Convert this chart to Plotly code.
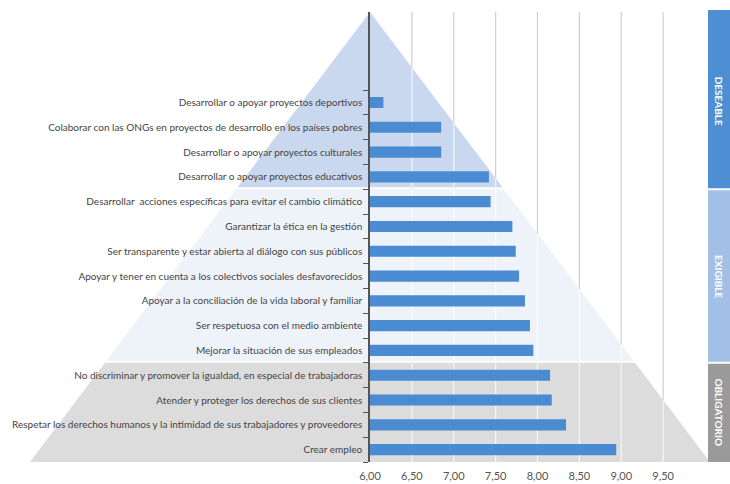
import plotly.graph_objects as go

# Actions, listed top to bottom, with their mean score
actions = [
    "Desarrollar o apoyar proyectos deportivos",
    "Colaborar con las ONGs en proyectos de desarrollo en los países pobres",
    "Desarrollar o apoyar proyectos culturales",
    "Desarrollar o apoyar proyectos educativos",
    "Desarrollar  acciones específicas para evitar el cambio climático",
    "Garantizar la ética en la gestión",
    "Ser transparente y estar abierta al diálogo con sus públicos",
    "Apoyar y tener en cuenta a los colectivos sociales desfavorecidos",
    "Apoyar a la conciliación de la vida laboral y familiar",
    "Ser respetuosa con el medio ambiente",
    "Mejorar la situación de sus empleados",
    "No discriminar y promover la igualdad, en especial de trabajadoras",
    "Atender y proteger los derechos de sus clientes",
    "Respetar los derechos humanos y la intimidad de sus trabajadores y proveedores",
    "Crear empleo",
]
scores = [6.16, 6.85, 6.85, 7.42, 7.44, 7.70, 7.74, 7.78, 7.85, 7.91, 7.95,
          8.15, 8.17, 8.34, 8.94]

# Pyramid levels (top to bottom) and how many actions fall in each
levels = ["DESEABLE", "EXIGIBLE", "OBLIGATORIO"]
level_counts = [4, 7, 4]

tick_values = [6.0, 6.5, 7.0, 7.5, 8.0, 8.5, 9.0, 9.5]
tick_labels = ["6,00", "6,50", "7,00", "7,50", "8,00", "8,50", "9,00", "9,50"]
x_range = [6.0, 10.0]

# Figure geometry (pixels)
W, H = 730, 484
M_L, M_R, M_T, M_B = 370, 25, 12, 22
PW, PH = W - M_L - M_R, H - M_T - M_B
Y_SPAN = 18.15                      # category units shown vertically
y_range = [-0.5, -0.5 + Y_SPAN]
BASE_HALF = 340 / PW                # half-width of the pyramid base (paper units)

band_fill = ["#c9d8ee", "#eef3fa", "#dcdcdc"]
tab_fill = ["#4d8fd2", "#a2c0e6", "#9a9a9a"]
bar_color = "#4a8bd1"
text_color = "#444444"
font_family = "Lato, sans-serif"


def cat_to_paper(v):
    return (v - y_range[0]) / Y_SPAN


def half_width(yp):
    return BASE_HALF * (1 - yp)


# Level boundaries, top to bottom, in paper units
bounds = [0.0]
acc = 0
for c in reversed(level_counts):
    acc += c
    bounds.append(cat_to_paper(acc - 0.5))
bounds[-1] = 1.0
bounds = list(reversed(bounds))
gap = 2 / PH

shapes = []

# Vertical gridlines (grey on white background)
for v in tick_values[1:]:
    xp = (v - x_range[0]) / (x_range[1] - x_range[0])
    shapes.append(dict(type="line", xref="paper", yref="paper", x0=xp, x1=xp,
                       y0=0, y1=1, line=dict(color="#cfcfcf", width=1.2),
                       layer="below"))

# Pyramid bands
for i, lvl in enumerate(levels):
    top = bounds[i]
    bot = bounds[i + 1] + (gap if i < len(levels) - 1 else 0)
    wt, wb = half_width(top), half_width(bot)
    path = f"M {-wb} {bot} L {wb} {bot} L {wt} {top} L {-wt} {top} Z"
    shapes.append(dict(type="path", xref="paper", yref="paper", path=path,
                       fillcolor=band_fill[i], line=dict(width=0),
                       layer="below"))

# Gridlines appear light where they cross the pyramid
for v in tick_values[1:]:
    xp = (v - x_range[0]) / (x_range[1] - x_range[0])
    ytop = 1 - xp / BASE_HALF
    if ytop > 0:
        shapes.append(dict(type="line", xref="paper", yref="paper", x0=xp,
                           x1=xp, y0=0, y1=ytop,
                           line=dict(color="rgba(255,255,255,0.75)", width=1.2),
                           layer="below"))

# Level tabs on the right
tab_x0 = (708 - M_L) / PW
tab_x1 = (730 - M_L) / PW
for i, lvl in enumerate(levels):
    top = bounds[i] + (gap if i == 0 else -gap / 2)
    bot = bounds[i + 1] + (gap / 2 if i < len(levels) - 1 else 0)
    shapes.append(dict(type="rect", xref="paper", yref="paper", x0=tab_x0,
                       x1=tab_x1, y0=bot, y1=top, fillcolor=tab_fill[i],
                       line=dict(width=0), layer="below"))

annotations = []
for i, lvl in enumerate(levels):
    annotations.append(dict(
        text=f"<b>{lvl}</b>", xref="paper", yref="paper",
        x=(tab_x0 + tab_x1) / 2, y=(bounds[i] + bounds[i + 1]) / 2,
        textangle=90, showarrow=False, xanchor="center", yanchor="middle",
        font=dict(family="Lato, sans-serif", size=10, color="white")))

fig = go.Figure(go.Bar(
    x=scores, y=actions, orientation="h",
    marker=dict(color=bar_color, line=dict(width=0)),
    width=0.45, hoverinfo="x+y"))

fig.update_layout(
    width=W, height=H,
    margin=dict(l=M_L, r=M_R, t=M_T, b=M_B, autoexpand=False),
    paper_bgcolor="white", plot_bgcolor="rgba(0,0,0,0)",
    showlegend=False, shapes=shapes, annotations=annotations,
    font=dict(family=font_family, color=text_color),
    xaxis=dict(range=x_range, tickvals=tick_values, ticktext=tick_labels,
               showgrid=False, zeroline=False, showline=False,
               ticks="outside", ticklen=4, tickcolor="rgba(0,0,0,0)",
               tickfont=dict(size=11, color="#555555"), automargin=False),
    yaxis=dict(type="category", categoryorder="array",
               categoryarray=list(reversed(actions)), range=y_range,
               showgrid=False, showline=True, linecolor="#555555",
               linewidth=1.5, ticks="outside", tickson="boundaries",
               ticklen=5, tickcolor="#555555", tickwidth=1,
               ticklabelstandoff=4,
               tickfont=dict(size=10, color=text_color), automargin=False),
)

fig.write_html("out.html")
